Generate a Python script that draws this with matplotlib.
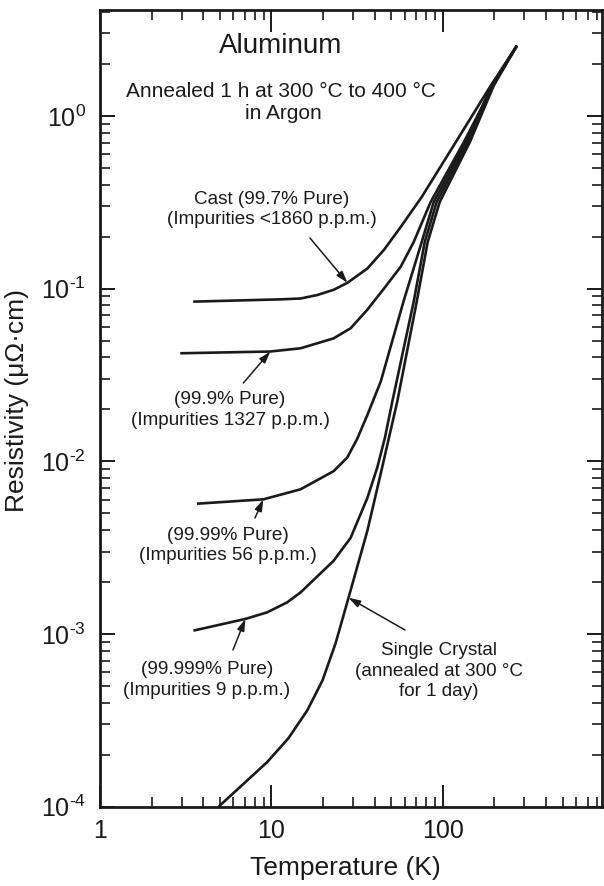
import matplotlib
matplotlib.use("Agg")
import matplotlib.pyplot as plt
from matplotlib.ticker import LogLocator, FixedLocator, FixedFormatter, NullFormatter

plt.rcParams['font.family'] = ['Liberation Sans', 'DejaVu Sans']
plt.rcParams['mathtext.fontset'] = 'custom'
plt.rcParams['mathtext.rm'] = 'Liberation Sans'
plt.rcParams['mathtext.it'] = 'Liberation Sans'
plt.rcParams['mathtext.bf'] = 'Liberation Sans'

# Resistivity of aluminium (micro-ohm cm) versus temperature (K)
T_cast = [3.5, 11.3, 14.8, 18.5, 23.1, 27.8, 36.3, 45.4, 56.8, 75.4, 119, 191, 271]
rho_cast = [0.084, 0.0866, 0.0876, 0.0917, 0.0984, 0.108, 0.1306, 0.1675, 0.227, 0.339, 0.703, 1.50, 2.55]

T_999 = [2.94, 9.86, 14.8, 23.1, 29.0, 36.3, 45.4, 56.8, 67.7, 85.0, 132.7, 166.8, 196, 271]
rho_999 = [0.0422, 0.0432, 0.0451, 0.0515, 0.0589, 0.0754, 0.100, 0.1336, 0.186, 0.317, 0.703, 1.09, 1.50, 2.55]

T_9999 = [3.68, 8.98, 14.8, 23.1, 27.7, 31.7, 36.3, 43.5, 59.0, 75.4, 88.6, 136.3, 193.4, 271]
rho_9999 = [0.00568, 0.00602, 0.00688, 0.00877, 0.0105, 0.0135, 0.0185, 0.029, 0.084, 0.186, 0.317, 0.703, 1.50, 2.55]

T_99999 = [3.51, 7.05, 9.44, 12.36, 14.8, 23.05, 29.0, 36.3, 41.5, 46.0, 50.8, 67.7, 78.5, 92.2, 140, 196, 271]
rho_99999 = [0.001046, 0.001222, 0.001334, 0.001524, 0.00174, 0.00265, 0.0036, 0.00612, 0.0092, 0.0137, 0.0222,
             0.084, 0.186, 0.317, 0.703, 1.50, 2.55]

T_single = [4.92, 9.44, 12.57, 16.2, 19.87, 23.67, 28.2, 36.3, 43.4, 54.3, 70.5, 81.7, 96.0, 143.8, 198.7, 271]
rho_single = [1.0e-4, 1.81e-4, 2.49e-4, 3.61e-4, 5.38e-4, 8.80e-4, 1.62e-3, 3.95e-3, 8.43e-3, 0.0222, 0.084,
              0.186, 0.317, 0.703, 1.50, 2.55]

x_ticks = [1, 10, 100]
x_tick_labels = ['1', '10', '100']
y_ticks = [1e-4, 1e-3, 1e-2, 1e-1, 1e0]
y_tick_labels = [r'$10^{\text{-}4}$', r'$10^{\text{-}3}$', r'$10^{\text{-}2}$', r'$10^{\text{-}1}$', r'$10^{0}$']

fig = plt.figure(figsize=(6.04, 8.86), dpi=100)
ax = fig.add_axes([0.16556, 0.0895, 0.83113, 0.8992])
ax.set_xscale('log')
ax.set_yscale('log')
ax.set_xlim(1, 850)
ax.set_ylim(1e-4, 4.1)

ink = '#1a1a1a'
lw = 1.9
for T, r in [(T_cast, rho_cast), (T_999, rho_999), (T_9999, rho_9999),
             (T_99999, rho_99999), (T_single, rho_single)]:
    ax.plot(T, r, color=ink, lw=lw, solid_capstyle='butt', solid_joinstyle='round')

# axes styling
for s in ax.spines.values():
    s.set_linewidth(2.0)
    s.set_color(ink)

ax.xaxis.set_major_locator(FixedLocator(x_ticks))
ax.xaxis.set_major_formatter(FixedFormatter(x_tick_labels))
ax.xaxis.set_minor_locator(LogLocator(base=10, subs=range(2, 10), numticks=20))
ax.xaxis.set_minor_formatter(NullFormatter())
ax.yaxis.set_major_locator(FixedLocator(y_ticks))
ax.yaxis.set_major_formatter(FixedFormatter(y_tick_labels))
ax.yaxis.set_minor_locator(LogLocator(base=10, subs=range(2, 10), numticks=20))
ax.yaxis.set_minor_formatter(NullFormatter())

ax.tick_params(axis='x', which='major', direction='in', length=16, width=1.4, top=True,
               labelsize=18, pad=9, colors=ink)
ax.tick_params(axis='x', which='minor', direction='in', length=7.5, width=1.2, top=True, colors=ink)
ax.tick_params(axis='y', which='major', direction='in', length=11, width=1.4, right=True,
               labelsize=18, pad=10, colors=ink)
ax.tick_params(axis='y', which='minor', direction='in', length=7.5, width=1.2, right=True, colors=ink)

ax.set_xlabel('Temperature (K)', fontsize=19, color=ink)
ax.xaxis.set_label_coords(0.489, -0.062)
ax.set_ylabel('Resistivity (μΩ·cm)', fontsize=19, color=ink)
ax.yaxis.set_label_coords(-0.142, 0.51)

# headings
ax.text(0.3606, 0.9548, 'Aluminum', transform=ax.transAxes, ha='center', va='center',
        fontsize=20, color=ink)
ax.text(0.3606, 0.8983, 'Annealed 1 h at 300 °C to 400 °C', transform=ax.transAxes,
        ha='center', va='center', fontsize=15, color=ink)
ax.text(0.3646, 0.8695, 'in Argon', transform=ax.transAxes, ha='center', va='center',
        fontsize=15, color=ink)

# curve labels with arrows
lab_fs = 13.6
labels = [
    ('Cast (99.7% Pure)\n(Impurities <1860 p.p.m.)', (0.342, 0.7496), (0.4183, 0.7138), (T_cast[5], rho_cast[5])),
    ('(99.9% Pure)\n(Impurities 1327 p.p.m.)', (0.259, 0.4979), (0.2855, 0.5318), (T_999[1], rho_999[1])),
    ('(99.99% Pure)\n(Impurities 56 p.p.m.)', (0.255, 0.3275), (0.3088, 0.3624), (T_9999[1], rho_9999[1])),
    ('(99.999% Pure)\n(Impurities 9 p.p.m.)', (0.2125, 0.159), (0.2649, 0.1967), (T_99999[1], rho_99999[1])),
    ('Single Crystal\n(annealed at 300 °C\nfor 1 day)', (0.675, 0.1703), (0.6076, 0.2218), (T_single[6], rho_single[6])),
]
for txt, pos, tail, tip in labels:
    ax.text(pos[0], pos[1], txt, transform=ax.transAxes, ha='center', va='center',
            fontsize=lab_fs, linespacing=1.25, color=ink)
    ax.annotate('', xy=tip, xycoords='data', xytext=tail, textcoords='axes fraction',
                arrowprops=dict(arrowstyle='-|>,head_length=0.7,head_width=0.22', lw=1.1,
                                color=ink, shrinkA=0, shrinkB=0))

fig.savefig('out.png', dpi=100)
